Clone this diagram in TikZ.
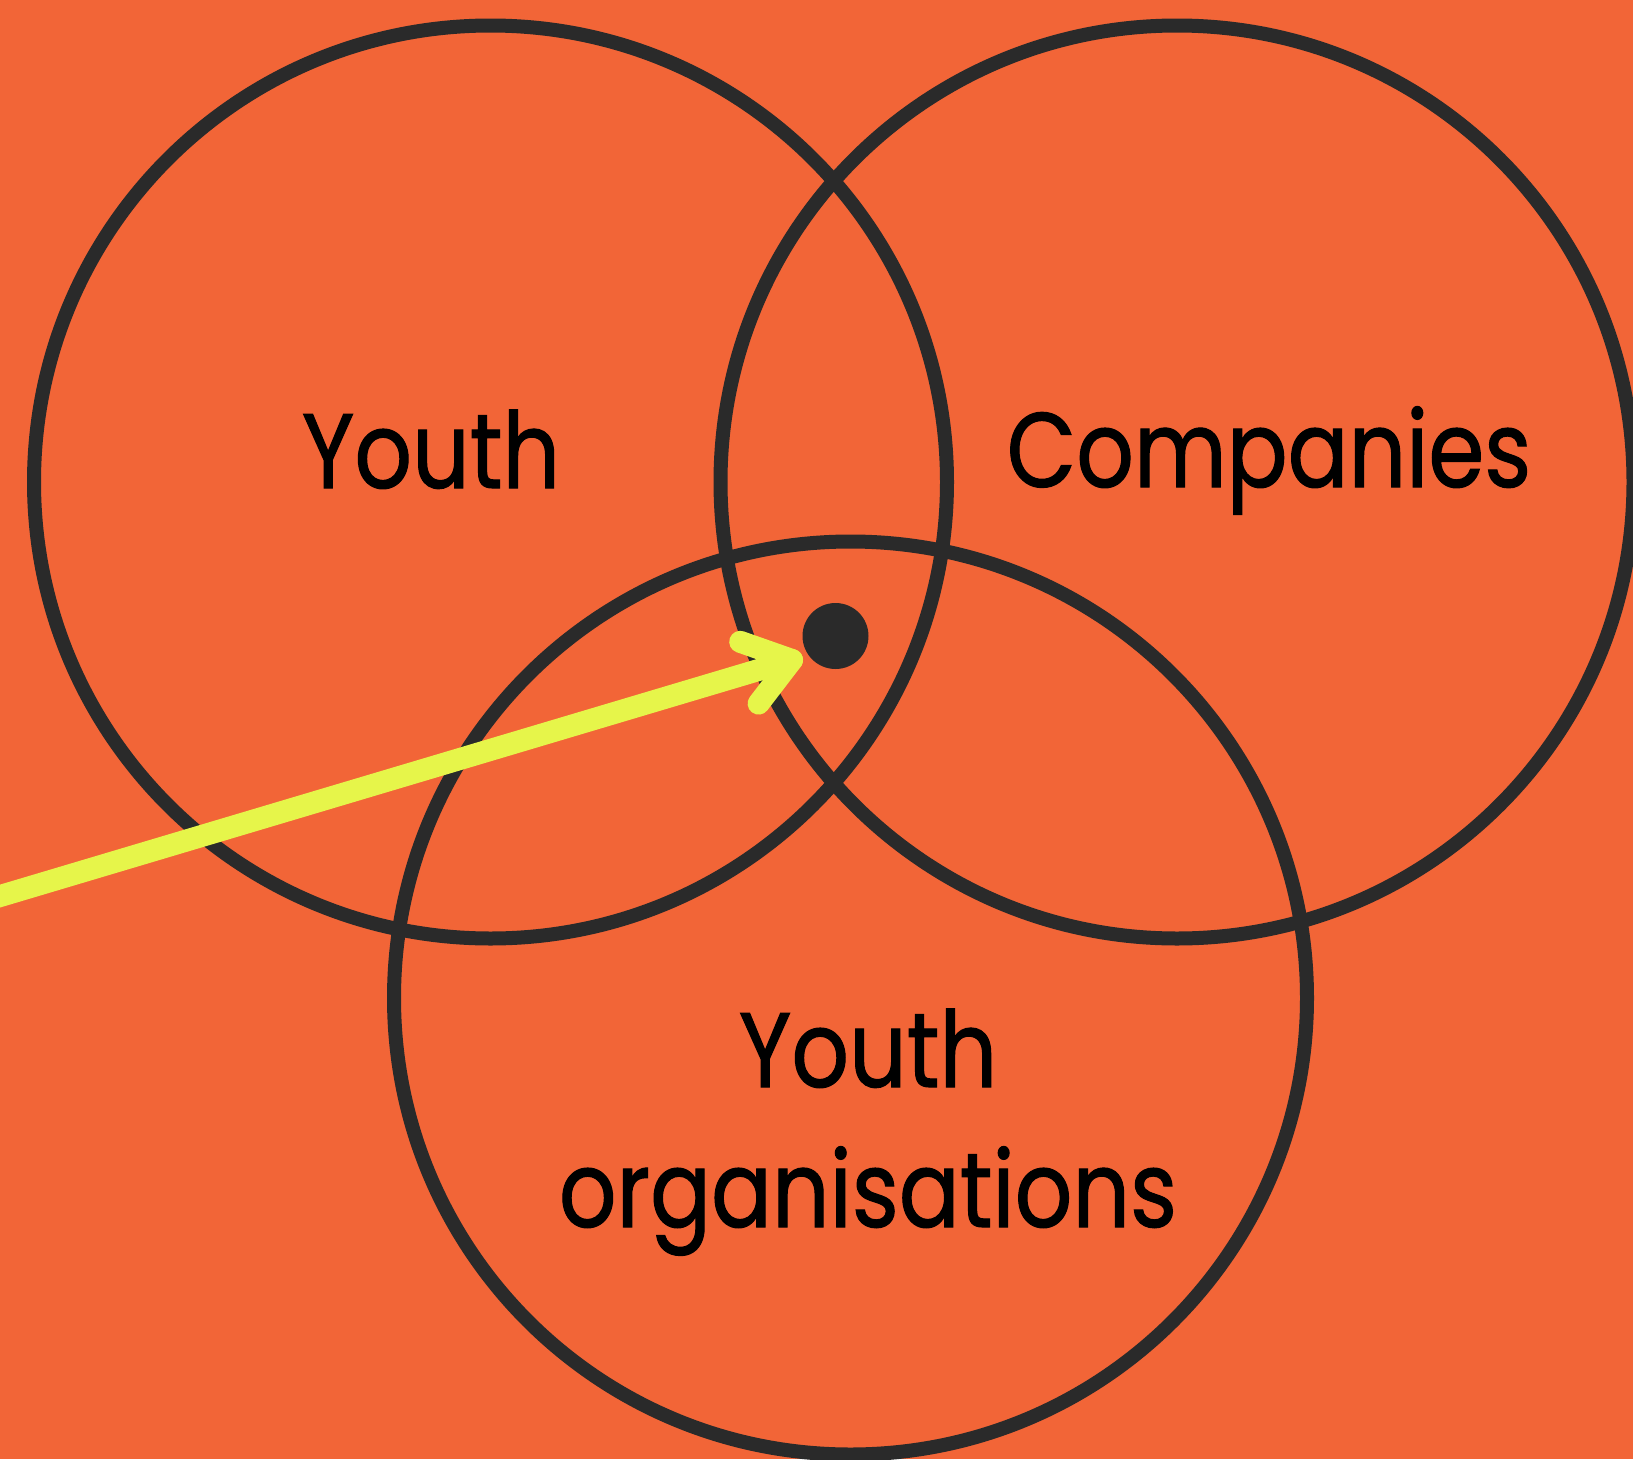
\documentclass[tikz,border=0pt]{standalone}
\usepackage{fontspec}
\setmainfont[FakeStretch=0.85,FakeBold=1]{Poppins}
\definecolor{bgorange}{RGB}{242,101,55}
\definecolor{ink}{RGB}{42,42,42}
\definecolor{lime}{RGB}{230,245,74}
\begin{document}
\begin{tikzpicture}[x=1pt,y=-1pt,
  ring/.style={circle, draw=ink, line width=14pt, minimum size=913pt, inner sep=0pt, outer sep=0pt},
  setlabel/.style={font=\fontsize{106}{140}\selectfont, text=black, inner sep=0pt, anchor=base, align=center},
  arrowline/.style={draw=lime, line width=22pt, line cap=round, line join=round}]
\fill[bgorange] (0,0) rectangle (1633,1459);
\useasboundingbox (0,0) rectangle (1633,1459);
\node[ring] (youth) at (490.5,482) {};
\node[ring] (companies) at (1177,482) {};
\node[ring] (orgs) at (850.5,998) {};
\node[setlabel] (lyouth) at (431,488) {Youth};
\node[setlabel] (lcompanies) at (1269,487) {Companies};
\node[setlabel] (lorgs) at (868,1227) {Youth\\organisations};
\node[circle, fill=ink, minimum size=66pt, inner sep=0pt] (dot) at (835.5,636) {};
\coordinate (start) at (-40,908);
\coordinate (tip) at (792,660);
\coordinate (barbA) at (740.2,641.8);
\coordinate (barbB) at (758.6,703.6);
\draw[arrowline] (start) -- (tip);
\draw[arrowline] (barbA) -- (tip) -- (barbB);
\end{tikzpicture}
\end{document}
